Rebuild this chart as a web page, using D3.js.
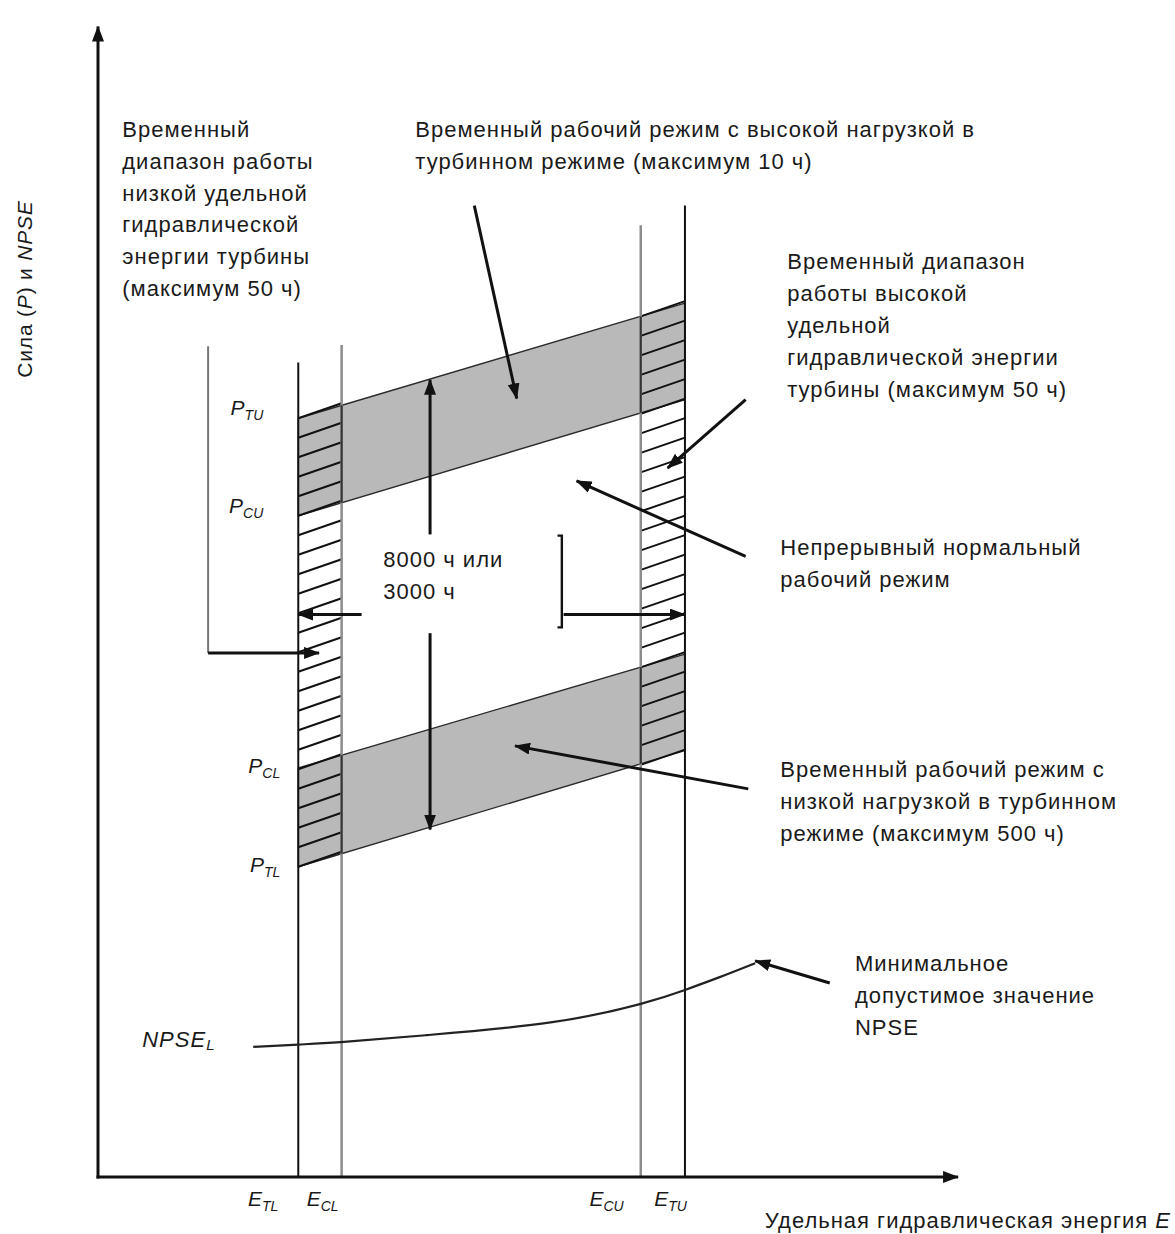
<!DOCTYPE html>
<html><head><meta charset="utf-8">
<script src="https://cdn.jsdelivr.net/npm/d3@7"></script>
<style>
body{margin:0;background:#fff}
svg{display:block}
text{font-family:"Liberation Sans",Arial,sans-serif;font-size:21px;fill:#1a1a1a}
text.note{font-size:22px;letter-spacing:1px}
</style></head><body>
<svg id="chart" width="1175" height="1234"></svg>
<script>
// E boundaries (axis units 0..100) and where each vertical line stops
const eKeys = ['TL','CL','CU','TU'];
const eVals = [23.1, 28.1, 62.6, 67.7];
const eTops = [70.1, 71.6, 81.9, 83.6];
// power limits P, read at E_TL and at E_TU (order TL, CL, CU, TU)
const pKeys = ['TL','CL','CU','TU'];
const pAtTL = [26.7, 35.2, 56.9, 65.3];
const pAtTU = [36.7, 45.0, 66.9, 75.2];
// minimum allowed NPSE
const npseE = [17.9, 23.1, 28.0, 37.8, 52.2, 62.6, 67.7, 71.7, 75.8];
const npseV = [11.2, 11.4, 11.6, 12.2, 13.3, 14.9, 16.1, 17.2, 18.4];

// annotation texts
const notes = [
  {x:2.8,  y:89.5, lines:['Временный','диапазон работы','низкой удельной','гидравлической','энергии турбины','(максимум 50 ч)']},
  {x:36.6, y:89.5, lines:['Временный рабочий режим с высокой нагрузкой в','турбинном режиме (максимум 10 ч)']},
  {x:79.5, y:78.1, lines:['Временный диапазон','работы высокой','удельной','гидравлической энергии','турбины (максимум 50 ч)']},
  {x:78.7, y:53.5, lines:['Непрерывный нормальный','рабочий режим']},
  {x:78.7, y:34.4, lines:['Временный рабочий режим с','низкой нагрузкой в турбинном','режиме (максимум 500 ч)']},
  {x:87.3, y:17.7, lines:['Минимальное','допустимое значение','NPSE']},
  {x:32.9, y:52.5, lines:['8000 ч или','3000 ч']},
];
// pointer arrows [from E, from P, to E, to P]
const pointers = [
  [43.4, 83.6, 48.3, 67.0],
  [74.7, 66.9, 65.7, 61.0],
  [74.7, 53.4, 55.2, 59.9],
  [75.0, 33.4, 48.1, 37.1],
  [84.4, 16.7, 75.8, 18.6],
  [30.4, 48.4, 23.1, 48.4],
  [53.7, 48.4, 67.7, 48.4],
  [12.7, 45.1, 25.5, 45.1],
];

const svg = d3.select('#chart');
const x = d3.scaleLinear().domain([0,100]).range([98,965]);
const y = d3.scaleLinear().domain([0,100]).range([1177,15]);

const defs = svg.append('defs');
defs.append('marker').attr('id','ah').attr('viewBox','0 0 16 12').attr('refX',15).attr('refY',6)
  .attr('markerWidth',16).attr('markerHeight',12).attr('markerUnits','userSpaceOnUse').attr('orient','auto-start-reverse')
  .append('path').attr('d','M0,0L16,6L0,12Z').attr('fill','#111');

// linear P boundary i as a function of E
const pLine = (i,e)=> pAtTL[i] + (pAtTU[i]-pAtTL[i])*(e-eVals[0])/(eVals[3]-eVals[0]);

// shaded bands (high load, low load)
[[3,2],[1,0]].forEach(([a,b])=>{
  const pts = [[eVals[0],pAtTL[a]],[eVals[3],pAtTU[a]],[eVals[3],pAtTU[b]],[eVals[0],pAtTL[b]]];
  svg.append('path').attr('d','M'+pts.map(p=>[x(p[0]),y(p[1])]).join('L')+'Z')
    .attr('fill','#b9b9b9').attr('stroke','#2a2a2a').attr('stroke-width',1.4);
});

// hatching in the two time-limited strips
const step = 19.5;
[[0,1],[2,3]].forEach(([l,r])=>{
  const yTop = e=>y(pLine(3,e)), yBot = e=>y(pLine(0,e));
  const n = Math.floor((yBot(eVals[l])-yTop(eVals[l]))/step+0.2);
  svg.append('g').selectAll('line').data(d3.range(n+1)).join('line')
    .attr('x1',x(eVals[l])).attr('x2',x(eVals[r]))
    .attr('y1',k=>yTop(eVals[l])+k*step).attr('y2',k=>yTop(eVals[r])+k*step-2)
    .attr('stroke','#111').attr('stroke-width',2);
});

// vertical E boundaries
const eCol = ['#111','#8c8c8c','#8c8c8c','#111'];
svg.append('g').selectAll('line').data(eVals).join('line')
  .attr('x1',d=>x(d)).attr('x2',d=>x(d)).attr('y1',y(0)).attr('y2',(d,i)=>y(eTops[i]))
  .attr('stroke',(d,i)=>eCol[i]).attr('stroke-width',(d,i)=>i%3?2.5:2);
// darker inside the bands
[[3,2],[1,0]].forEach(([a,b])=>[1,2].forEach(i=>{
  svg.append('line').attr('x1',x(eVals[i])).attr('x2',x(eVals[i]))
    .attr('y1',y(pLine(a,eVals[i]))).attr('y2',y(pLine(b,eVals[i])))
    .attr('stroke','#333').attr('stroke-width',2);
}));

// NPSE curve
svg.append('path').datum(d3.zip(npseE,npseV))
  .attr('d',d3.line().x(d=>x(d[0])).y(d=>y(d[1])).curve(d3.curveNatural))
  .attr('fill','none').attr('stroke','#222').attr('stroke-width',2.2);

// left bracket of the low energy range
svg.append('line').attr('x1',x(12.7)).attr('x2',x(12.7)).attr('y1',y(71.5)).attr('y2',y(45.1))
  .attr('stroke','#777').attr('stroke-width',2);
// right bracket around 8000 h
svg.append('path').attr('d',`M${x(53.0)},${y(55.2)}H${x(53.5)}V${y(47.3)}H${x(53.0)}`)
  .attr('fill','none').attr('stroke','#111').attr('stroke-width',2.4);

// pointers
svg.append('g').selectAll('line').data(pointers).join('line')
  .attr('x1',d=>x(d[0])).attr('y1',d=>y(d[1])).attr('x2',d=>x(d[2])).attr('y2',d=>y(d[3]))
  .attr('stroke','#111').attr('stroke-width',3).attr('marker-end','url(#ah)');
// double arrow for the continuous range, broken by its label
[[55.3,68.6],[46.8,29.9]].forEach(([a,b])=>{
  svg.append('line').attr('x1',x(38.3)).attr('x2',x(38.3)).attr('y1',y(a)).attr('y2',y(b))
    .attr('stroke','#111').attr('stroke-width',3).attr('marker-end','url(#ah)');
});

// axes
const ax = svg.append('g').attr('transform',`translate(0,${y(0)})`).call(d3.axisBottom(x).tickValues([]).tickSizeOuter(0));
const ay = svg.append('g').attr('transform',`translate(${x(0)},0)`).call(d3.axisLeft(y).tickValues([]).tickSizeOuter(0));
[ax,ay].forEach(g=>g.select('.domain').attr('stroke','#111').attr('stroke-width',3).attr('marker-end','url(#ah)'));
ay.select('.domain').attr('d',`M0,${y(0)+1.5}V${y(99)}`);
ax.select('.domain').attr('d',`M${x(0)-1.5},0H${x(99.2)}`);

// subscript labels
function subLabel(g, base, sub, px, py, anchor){
  const t = g.append('text').attr('x',px).attr('y',py).attr('text-anchor',anchor||'start').style('font-style','italic');
  t.append('tspan').text(base);
  t.append('tspan').attr('dy',5).style('font-size','14px').text(sub);
  return t;
}
const eDx = [-20,-3,-17,2];
eKeys.forEach((k,i)=>subLabel(svg,'E',k,x(eVals[i])+eDx[i],1206,'end'));
const pDx = [-18,-18,-35,-35];
pKeys.forEach((k,i)=>subLabel(svg,'P',k,x(eVals[0])+pDx[i],y(pAtTL[i])+(i<2?5:-3),'end'));
const nl = svg.append('text').attr('x',x(5.1)).attr('y',y(11.2)).style('font-style','italic').style('font-size','22px').style('letter-spacing','1px');
nl.append('tspan').text('NPSE');
nl.append('tspan').attr('dy',3).style('font-size','15px').text('L');

// notes
notes.forEach(n=>{
  const t = svg.append('text').attr('class','note').attr('x',x(n.x)).attr('y',y(n.y));
  n.lines.forEach((s,i)=>t.append('tspan').attr('x',x(n.x)).attr('dy',i?31.8:0).text(s));
});

// axis titles
const yt = svg.append('text').attr('transform',`translate(32,${289}) rotate(-90)`).attr('text-anchor','middle').style('letter-spacing','0.8px');
yt.append('tspan').text('Сила (');
yt.append('tspan').style('font-style','italic').text('P');
yt.append('tspan').text(') и ');
yt.append('tspan').style('font-style','italic').text('NPSE');
const xt = svg.append('text').attr('class','note').attr('x',1171).attr('y',1228).attr('text-anchor','end');
xt.append('tspan').text('Удельная гидравлическая энергия ');
xt.append('tspan').style('font-style','italic').text('E');
</script>
</body></html>
